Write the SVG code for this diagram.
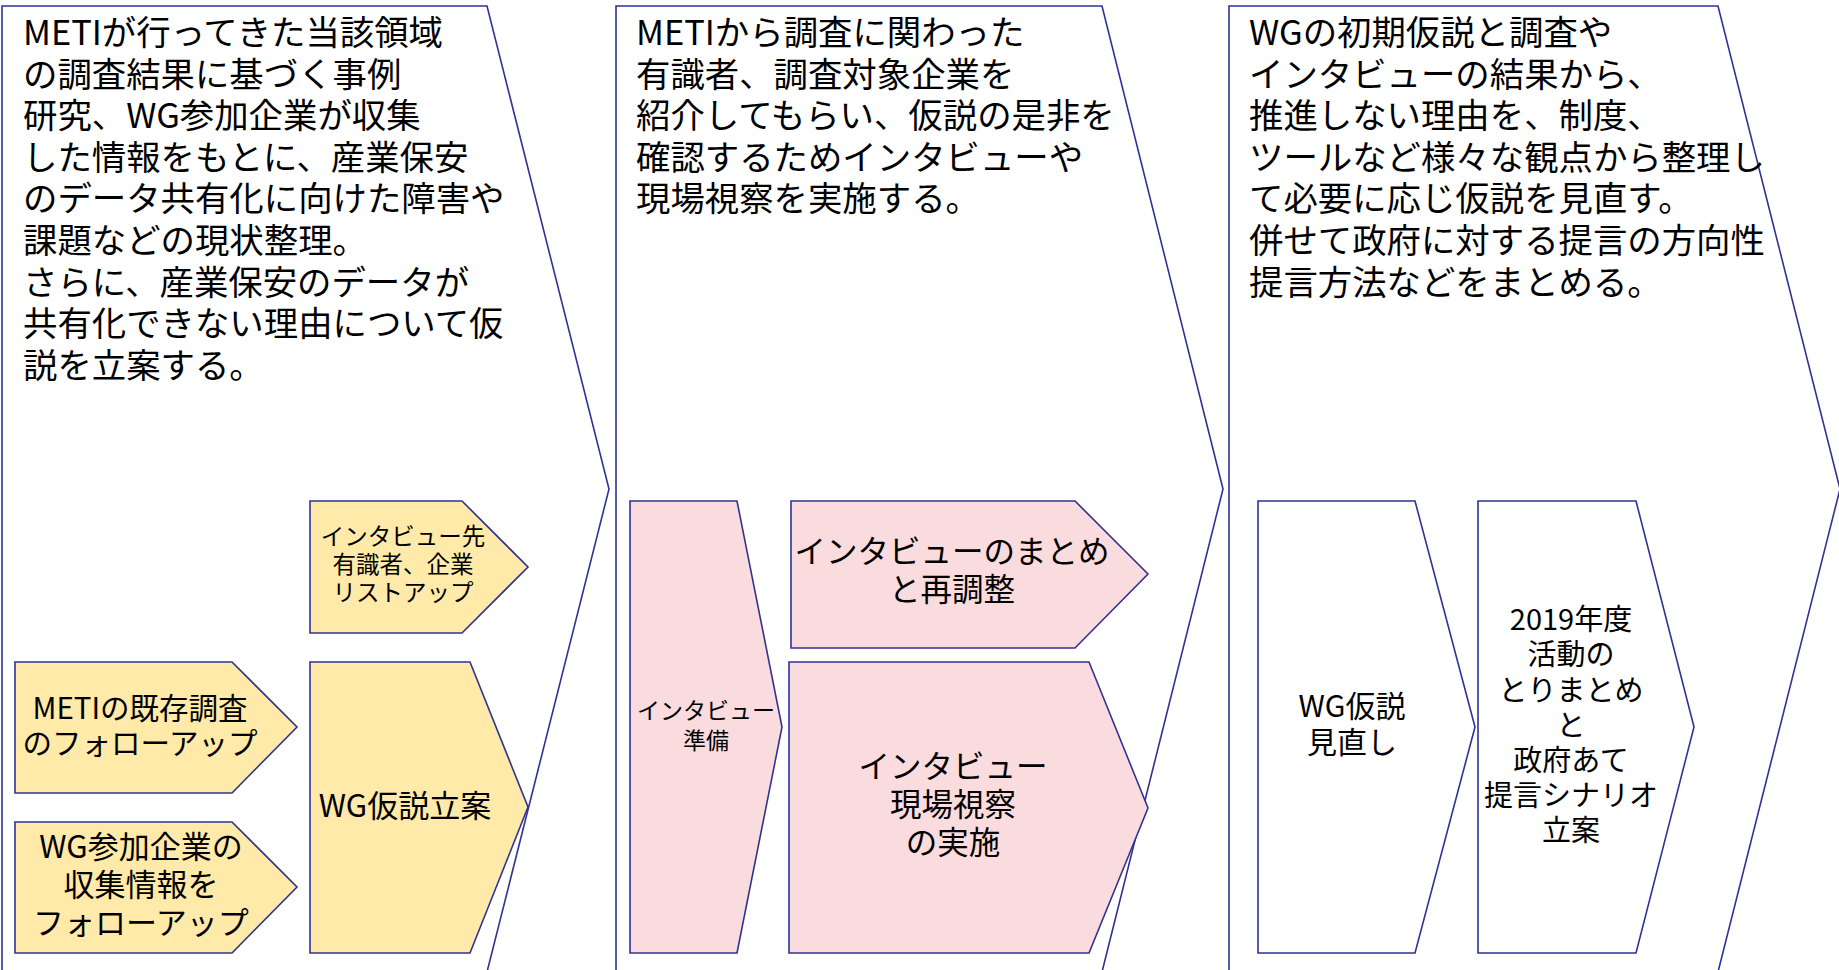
<svg xmlns="http://www.w3.org/2000/svg" width="1839" height="970" viewBox="0 0 1839 970">
<style>
.pn{fill:#FFFFFF;stroke:#2F3296;stroke-width:1.6}
.y{fill:#FFEAA9;stroke:#2F3296;stroke-width:1.6}
.p{fill:#FADBDE;stroke:#2F3296;stroke-width:1.6}
.w{fill:#FFFFFF;stroke:#2F3296;stroke-width:1.6}
text{font-family:"Noto Sans CJK JP","Noto Sans",sans-serif;fill:#000000}
.big{font-size:34.4px}
.c{text-anchor:middle}
</style>
<rect width="1839" height="970" fill="#FFFFFF"/>
<g id="panel1">
<polygon class="pn" points="2,6 487,6 609,489 487,972 2,972"/>
<text class="big" x="23"><tspan x="23" y="45">METIが行ってきた当該領域</tspan><tspan x="23" y="86.6">の調査結果に基づく事例</tspan><tspan x="23" y="128.2">研究、WG参加企業が収集</tspan><tspan x="23" y="169.8">した情報をもとに、産業保安</tspan><tspan x="23" y="211.4">のデータ共有化に向けた障害や</tspan><tspan x="23" y="253">課題などの現状整理。</tspan><tspan x="23" y="294.6">さらに、産業保安のデータが</tspan><tspan x="23" y="336.2">共有化できない理由について仮</tspan><tspan x="23" y="377.8">説を立案する。</tspan></text>
</g>
<g id="panel2">
<polygon class="pn" points="616,6 1102,6 1223,489 1102,972 616,972"/>
<text class="big"><tspan x="636" y="45">METIから調査に関わった</tspan><tspan x="636" y="86.6">有識者、調査対象企業を</tspan><tspan x="636" y="128.2">紹介してもらい、仮説の是非を</tspan><tspan x="636" y="169.8">確認するためインタビューや</tspan><tspan x="636" y="211.4">現場視察を実施する。</tspan></text>
</g>
<g id="panel3">
<polygon class="pn" points="1229,6 1718,6 1840,489 1718,972 1229,972"/>
<text class="big"><tspan x="1249" y="45">WGの初期仮説と調査や</tspan><tspan x="1249" y="86.6">インタビューの結果から、</tspan><tspan x="1249" y="128.2">推進しない理由を、制度、</tspan><tspan x="1249" y="169.8">ツールなど様々な観点から整理し</tspan><tspan x="1249" y="211.4">て必要に応じ仮説を見直す。</tspan><tspan x="1249" y="253">併せて政府に対する提言の方向性</tspan><tspan x="1249" y="294.6">提言方法などをまとめる。</tspan></text>
</g>
<g id="node-interview-list">
<polygon class="y" points="310,501 462,501 528,567 462,633 310,633"/>
<text class="c" font-size="23.5"><tspan x="403" y="545">インタビュー先</tspan><tspan x="403" y="573">有識者、企業</tspan><tspan x="403" y="601">リストアップ</tspan></text>
</g>
<g id="node-meti-followup">
<polygon class="y" points="15,662 232,662 297,727 232,793 15,793"/>
<text class="c" font-size="29.5"><tspan x="140" y="719">METIの既存調査</tspan><tspan x="140" y="754">のフォローアップ</tspan></text>
</g>
<g id="node-wg-followup">
<polygon class="y" points="15,822 232,822 297,887 232,953 15,953"/>
<text class="c" font-size="31"><tspan x="141" y="858">WG参加企業の</tspan><tspan x="141" y="896">収集情報を</tspan><tspan x="141" y="934">フォローアップ</tspan></text>
</g>
<g id="node-wg-hypothesis">
<polygon class="y" points="310,662 470,662 528,807 470,953 310,953"/>
<text class="c" font-size="31" x="405" y="817">WG仮説立案</text>
</g>
<g id="node-interview-prep">
<polygon class="p" points="630,501 737,501 782,727 737,953 630,953"/>
<text class="c" font-size="23"><tspan x="706" y="719">インタビュー</tspan><tspan x="706" y="749">準備</tspan></text>
</g>
<g id="node-interview-summary">
<polygon class="p" points="791,501 1075,501 1148,574 1075,648 791,648"/>
<text class="c" font-size="31.5"><tspan x="952" y="563">インタビューのまとめ</tspan><tspan x="952" y="601">と再調整</tspan></text>
</g>
<g id="node-interview-exec">
<polygon class="p" points="789,662 1089,662 1148,808 1089,953 789,953"/>
<text class="c" font-size="31.5"><tspan x="953" y="778">インタビュー</tspan><tspan x="953" y="816">現場視察</tspan><tspan x="953" y="854">の実施</tspan></text>
</g>
<g id="node-wg-review">
<polygon class="w" points="1258,501 1415,501 1475,727 1415,953 1258,953"/>
<text class="c" font-size="30"><tspan x="1352" y="717">WG仮説</tspan><tspan x="1352" y="753">見直し</tspan></text>
</g>
<g id="node-summary-2019">
<polygon class="w" points="1478,501 1636,501 1694,727 1636,953 1478,953"/>
<text class="c" font-size="29"><tspan x="1571" y="630">2019年度</tspan><tspan x="1571" y="665">活動の</tspan><tspan x="1571" y="701">とりまとめ</tspan><tspan x="1571" y="736">と</tspan><tspan x="1571" y="771">政府あて</tspan><tspan x="1571" y="806">提言シナリオ</tspan><tspan x="1571" y="841">立案</tspan></text>
</g>
<g id="connectors"></g>
</svg>
